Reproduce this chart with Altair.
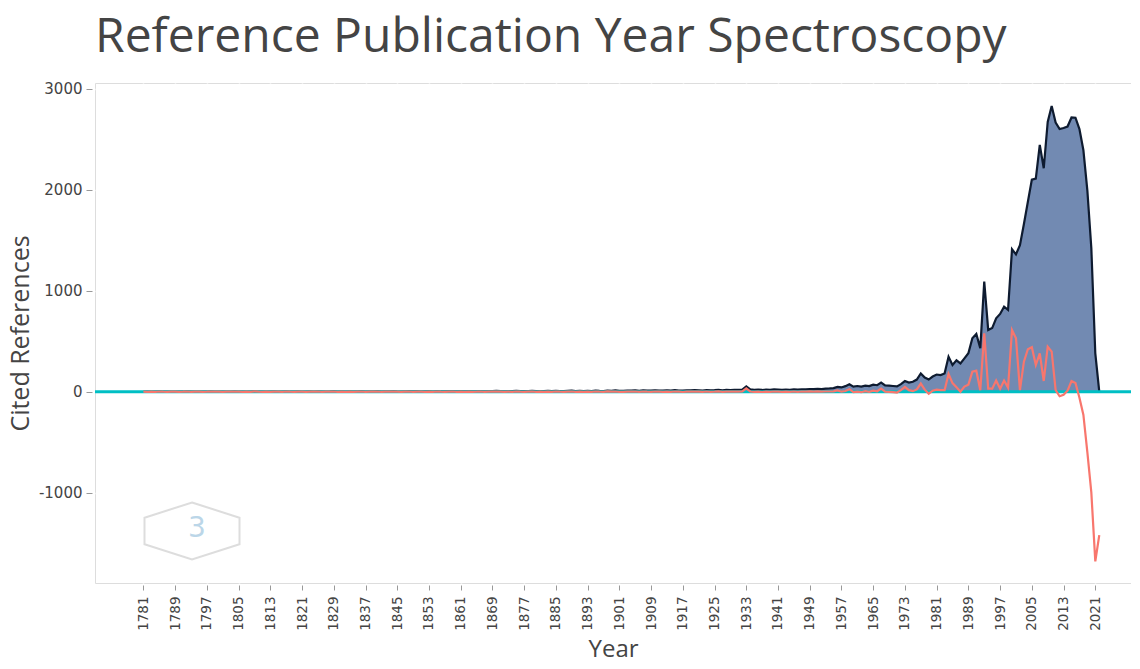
import altair as alt
import pandas as pd

start_year = 1781
end_year = 2022

cited = [
    2, 0, 1, 0, 3, 1, 0, 2, 1, 0,
    1, 3, 0, 1, 2, 0, 1, 4, 2, 1,
    0, 2, 1, 3, 1, 0, 2, 1, 5, 2,
    1, 2, 0, 3, 2, 1, 4, 2, 1, 3,
    2, 1, 3, 2, 4, 1, 2, 3, 5, 2,
    3, 2, 4, 1, 3, 5, 2, 3, 4, 6,
    2, 4, 3, 5, 3, 2, 4, 6, 3, 5,
    4, 3, 5, 2, 6, 4, 3, 5, 7, 4,
    5, 3, 6, 4, 5, 7, 4, 6, 5, 8,
    6, 4, 7, 5, 8, 6, 5, 7, 9, 6,
    7, 5, 8, 6, 9, 7, 6, 8, 10, 7,
    8, 6, 9, 7, 10, 8, 7, 11, 9, 12,
    9, 8, 11, 10, 12, 9, 13, 11, 10, 14,
    12, 10, 13, 11, 15, 12, 10, 14, 13, 16,
    14, 12, 16, 13, 15, 18, 14, 17, 16, 19,
    17, 20, 52, 22, 18, 20, 17, 21, 19, 22,
    20, 18, 21, 19, 23, 20, 24, 22, 26, 25,
    28, 26, 30, 32, 35, 48, 42, 55, 73, 50,
    56, 50, 60, 55, 70, 64, 90, 62, 60, 56,
    52, 75, 105, 90, 98, 120, 180, 140, 120, 150,
    170, 165, 180, 345, 265, 310, 280, 330, 380, 529,
    571, 430, 1089, 611, 630, 727, 770, 842, 810, 1410,
    1360, 1450, 1660, 1880, 2100, 2110, 2443, 2212, 2670, 2829,
    2665, 2600, 2610, 2625, 2715, 2712, 2600, 2390, 1990, 1420,
    380, 0,
]

deviation = [
    1, -1, 0, -1, 2, 0, -1, 1, 0, -1,
    0, 2, -1, 0, 1, -1, 0, 2, 1, 0,
    -1, 1, 0, 1, 0, -2, 0, -1, 3, 0,
    -1, 0, -2, 1, 0, -1, 2, 0, -1, 1,
    0, -1, 1, 0, 2, -1, 0, 1, 2, -1,
    0, -1, 1, -2, 0, 2, -1, 0, 1, 2,
    -1, 1, 0, 1, 0, -2, 0, 2, -1, 1,
    0, -1, 1, -2, 2, 0, -1, 1, 2, -1,
    0, -2, 1, -1, 0, 2, -1, 1, 0, 2,
    0, -2, 1, -1, 2, 0, -1, 1, 2, -1,
    0, -2, 1, -1, 2, 0, -1, 1, 2, -1,
    0, -2, 1, -1, 2, 0, -1, 3, 0, 2,
    -1, -2, 1, 0, 2, -1, 2, 0, -1, 2,
    0, -2, 1, -1, 2, 0, -3, 1, 0, 2,
    1, -2, 2, -1, 0, 3, -2, 1, 0, 2,
    0, 2, 33, 2, -2, 0, -3, 1, -1, 2,
    0, -2, 1, -1, 2, -1, 2, 0, 3, 1,
    3, 0, 2, 2, 3, 13, 0, 7, 25, -5,
    1, -5, 5, -1, 10, 4, 30, 0, -2, -4,
    -8, 15, 47, 15, 5, 22, 80, 20, -20, 10,
    20, 15, 15, 175, 85, 45, 0, 50, 70, 198,
    208, 15, 578, 30, 30, 110, 30, 110, 40, 611,
    528, 15, 297, 420, 440, 264, 380, 106, 445, 396,
    15, -45, -30, 10, 106, 86, -60, -230, -600, -1000,
    -1680, -1420,
]

tick_years = [1781, 1789, 1797, 1805, 1813, 1821, 1829, 1837, 1845, 1853,
              1861, 1869, 1877, 1885, 1893, 1901, 1909, 1917, 1925, 1933,
              1941, 1949, 1957, 1965, 1973, 1981, 1989, 1997, 2005, 2013, 2021]
y_ticks = [-1000, 0, 1000, 2000, 3000]

years = list(range(start_year, end_year + 1))
df = pd.DataFrame({"Year": years, "Cited": cited, "Deviation": deviation})

x_scale = alt.Scale(domain=[1768.8, 2030.0], nice=False, zero=False)
y_scale = alt.Scale(domain=[-1894, 3056], nice=False, zero=False)

x_axis = alt.Axis(
    values=tick_years, tickCount=60, format="d", labelAngle=270, title="Year",
    grid=True, gridColor="white", gridWidth=1.5, domain=False, tickSize=5,
    tickColor="#999999", offset=2, labelPadding=6, labelFont="DejaVu Sans",
    labelFontSize=13.5, labelColor="#444444", titleFont="Open Sans",
    titleFontSize=24, titleFontWeight="normal", titleColor="#444444",
    titlePadding=7, labelOverlap=False, labelFlush=False,
)
y_axis = alt.Axis(
    values=y_ticks, tickCount=20, title="Cited References", grid=True,
    gridColor="white", gridWidth=1.5, domain=False, tickSize=6,
    tickColor="#999999", offset=3, labelPadding=4, labelFont="DejaVu Sans",
    labelFontSize=15, labelColor="#444444", titleFont="Open Sans",
    titleFontSize=25, titleFontWeight="normal", titleColor="#444444",
    titlePadding=5, labelExpr="'' + datum.value", labelOverlap=False,
)

base = alt.Chart(df)

area = base.mark_area(color="#728AB2", opacity=1).encode(
    x=alt.X("Year:Q", scale=x_scale, axis=x_axis),
    y=alt.Y("Cited:Q", scale=y_scale, axis=y_axis),
)
cited_line = base.mark_line(color="#0E1B30", strokeWidth=2.2).encode(
    x="Year:Q", y="Cited:Q"
)
zero_line = alt.Chart(pd.DataFrame({"zero": [0]})).mark_rule(
    color="#00BFC4", strokeWidth=3
).encode(y=alt.Y("zero:Q", scale=y_scale))
dev_line = base.mark_line(color="#F8766D", strokeWidth=2.2).encode(
    x="Year:Q", y="Deviation:Q"
)

hex_path = "M0,-0.6L1,-0.28L1,0.28L0,0.6L-1,0.28L-1,-0.28Z"
logo = alt.Chart(pd.DataFrame({"k": [0]})).mark_point(
    shape=hex_path, size=9025, filled=False, color="#CFCFCF", strokeWidth=2
).encode(x=alt.value(97), y=alt.value(448))
logo_text = alt.Chart(pd.DataFrame({"k": [0]})).mark_text(
    text="3", font="DejaVu Sans", fontSize=28, color="#BBD6E8"
).encode(x=alt.value(102), y=alt.value(446))

chart = alt.layer(area, cited_line, zero_line, dev_line, logo, logo_text).properties(
    width=1036,
    height=500,
    autosize=alt.AutoSizeParams(type="none"),
    padding={"left": 87, "top": 75, "right": 0, "bottom": 78},
    title=alt.TitleParams(
        "Reference Publication Year Spectroscopy", anchor="start",
        frame="group", font="Open Sans", fontSize=48, fontWeight="normal",
        color="#444444", offset=20,
    ),
).configure_view(fill="#EBEBEB", stroke="transparent", strokeWidth=0).configure(
    background="white"
)

chart.save("out.html", embed_options={"renderer": "svg", "actions": False})
